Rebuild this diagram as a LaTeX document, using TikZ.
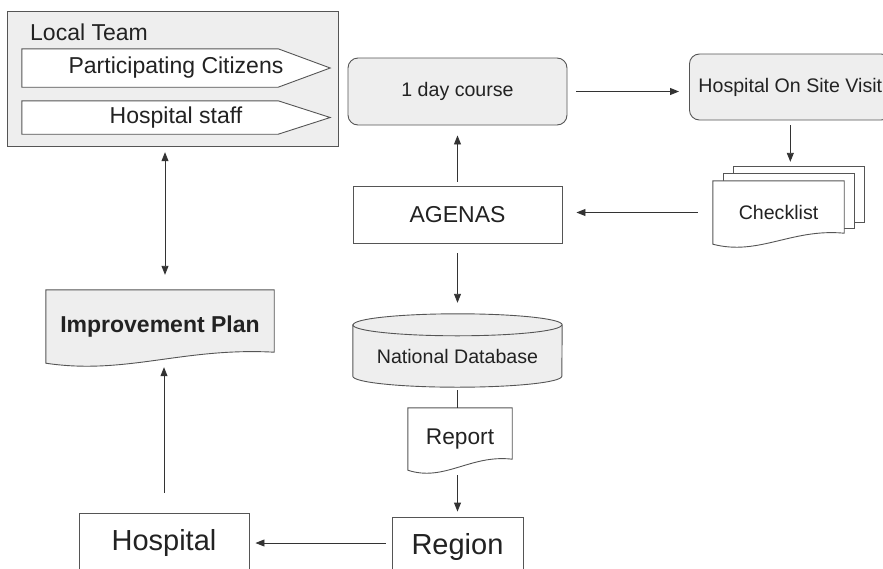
\documentclass[tikz,border=0pt]{standalone}
\usepackage{fontspec}
\setmainfont{Liberation Sans}
\usetikzlibrary{arrows.meta,calc,backgrounds}

\definecolor{shade}{HTML}{EEEEEE}
\definecolor{ink}{HTML}{222222}
\definecolor{rule}{HTML}{555555}
\definecolor{wire}{HTML}{333333}

% outlines drawn round a named node
\newcommand{\tagshape}[1]{%
	\draw [box, fill=white] (#1.north west) -- ([xshift=-52pt]#1.north east) -- (#1.east)
		-- ([xshift=-52pt]#1.south east) -- (#1.south west) -- cycle;}
\newcommand{\docshape}[2]{%
	\draw [box, fill=#2] (#1.north west) -- (#1.north east) -- ([yshift=11pt]#1.south east)
		.. controls ($(#1.south west)!0.6!(#1.south east)+(0,16pt)$)
		and ($(#1.south west)!0.35!(#1.south east)+(0,-12pt)$) .. (#1.south west) -- cycle;}
\newcommand{\drumshape}[1]{%
	\draw [box, fill=shade] ([yshift=11pt]#1.north west) -- (#1.south west)
		arc [start angle=180, end angle=360, x radius=104.5pt, y radius=11pt]
		-- ([yshift=11pt]#1.north east)
		arc [start angle=0, end angle=180, x radius=104.5pt, y radius=11pt] -- cycle;
	\draw [box] ([yshift=11pt]#1.north west)
		arc [start angle=180, end angle=360, x radius=104.5pt, y radius=11pt];}

\begin{document}
\begin{tikzpicture}[x=1pt, y=-1pt, >={Triangle[length=9pt,width=7pt]},
	every node/.style={text=ink, inner sep=0pt},
	box/.style={draw=rule, line width=0.9pt},
	block/.style={box, fill=white},
	soft/.style={box, fill=shade, rounded corners=10pt},
	hollow/.style={draw=none},
	link/.style={draw=wire, line width=0.9pt, ->},
	txtS/.style={font=\fontsize{19.6}{23}\selectfont},
	txtM/.style={font=\fontsize{23}{27}\selectfont},
	txtL/.style={font=\fontsize{29}{34}\selectfont}]

	\useasboundingbox (0,0) rectangle (883,568);

	% Nodes {team, plan, hospital}
	\node [hollow, minimum width=330pt, minimum height=134pt]	(team) 		at (173,79)		{};
	\node [txtM, anchor=base west]							(teamname)	at (30,40)		{Local Team};
	\node [hollow, txtM, minimum width=308pt, minimum height=38pt]	(citizens)	at (176,68)		{Participating Citizens};
	\node [hollow, txtM, minimum width=308pt, minimum height=33pt]	(staff)		at (176,117.5)	{Hospital staff};
	\node [hollow, font=\bfseries\fontsize{23}{27}\selectfont,
		minimum width=228pt, minimum height=73pt]				(plan)		at (160,326.5)	{Improvement Plan};
	\node [block, txtL, minimum width=170pt, minimum height=60pt]	(hospital)	at (164,543)	{Hospital};

	% Nodes {course, visit, checklist, agenas, db, report, region}
	\node [soft, txtS, minimum width=219pt, minimum height=67pt]	(course)	at (457.5,91.5)	{1 day course};
	\node [soft, txtS, anchor=west, inner xsep=9pt,
		minimum height=66pt]									(visit)		at (689,87)		{Hospital On Site Visit};
	\node [hollow, minimum width=130pt, minimum height=55pt]	(sheetback)	at (799,194.5)	{};
	\node [hollow, minimum width=130pt, minimum height=54pt]	(sheetmid)	at (789,201)	{};
	\node [hollow, txtS, minimum width=131pt, minimum height=63pt]	(checklist)	at (778.5,212.5)	{Checklist};
	\node [block, txtM, minimum width=209pt, minimum height=57pt]	(agenas)	at (457.5,214.5)	{AGENAS};
	\node [hollow, txtS, minimum width=209pt, minimum height=40pt]	(db)		at (457.5,356)	{National Database};
	\node [hollow, font=\fontsize{22.7}{27}\selectfont,
		minimum width=104pt, minimum height=62pt]				(report)	at (460,439)	{Report};
	\node [block, txtL, minimum width=131pt, minimum height=60pt]	(region)	at (457.5,547)	{Region};

	% Outlines behind the texts
	\begin{scope}[on background layer]
		\draw [box, fill=shade] (team.north west) rectangle (team.south east);
		\tagshape{citizens}
		\tagshape{staff}
		\docshape{plan}{shade}
		\draw [box, fill=white] (sheetback.north west) rectangle (sheetback.south east);
		\draw [box, fill=white] (sheetmid.north west) rectangle (sheetmid.south east);
		\docshape{checklist}{white}
		\drumshape{db}
		\docshape{report}{white}
	\end{scope}

	% Paths
	\draw [link, shorten <=9pt, shorten >=10pt]	(course.east) -- (course.east -| visit.west);
	\draw [link, shorten <=5pt, shorten >=5pt]	(visit.south) -- (visit.south |- sheetback.north);
	\draw [link, shorten <=15pt, shorten >=14pt]	(checklist.west) -- (checklist.west -| agenas.east);
	\draw [link, shorten <=4pt, shorten >=10pt]	(agenas) -- (course);
	\draw [link, shorten <=10pt, shorten >=11pt]	(agenas.south) -- ([yshift=22pt]db.north);
	\draw [draw=wire, line width=0.9pt, shorten <=3pt]	([yshift=-11pt]db.south) -- (db.south |- report.north);
	\draw [link, shorten <=5pt, shorten >=5pt]	(db.south |- report.south) -- (region.north);
	\draw [link, shorten <=6pt, shorten >=6pt]	(region.west |- hospital) -- (hospital.east);
	\draw [link, shorten <=20pt, shorten >=4pt]	(hospital.north) -- (hospital.north |- plan.south);
	\draw [link, <->, shorten <=15pt, shorten >=6pt]	([xshift=5pt]plan.north) -- ([xshift=5pt]plan.north |- team.south);

\end{tikzpicture}
\end{document}
